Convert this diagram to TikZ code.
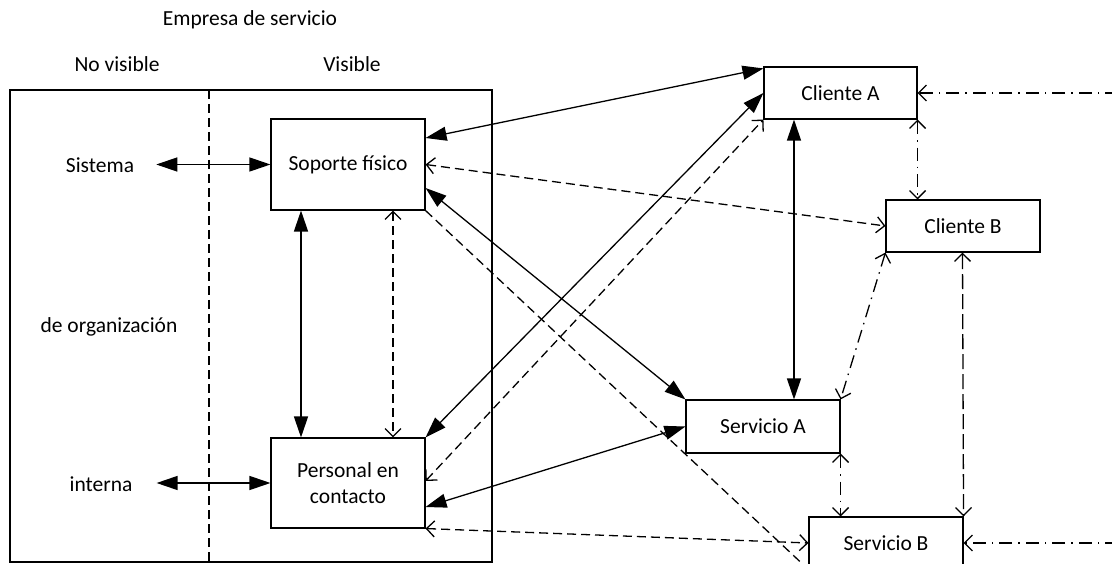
\documentclass[tikz,border=0pt]{standalone}
\usepackage{fontspec}
\setmainfont{Carlito}
\usetikzlibrary{arrows.meta,calc}
\begin{document}
\begin{tikzpicture}[x=1pt,y=-1pt,
  txt/.style={font=\fontsize{21.5}{26}\selectfont, inner sep=0pt},
  box/.style={draw, line width=1.1pt, minimum width=154pt, inner sep=0pt,
    align=center, font=\fontsize{21.5}{26}\selectfont},
  fullhead/.tip={Triangle[length=21pt,width=14pt]},
  openhead/.tip={Straight Barb[length=8pt,width=16pt]},
  solidlink/.style={draw, line width=1.3pt, fullhead-fullhead},
  dashlink/.style={draw, line width=1.3pt, dash pattern=on 9pt off 5pt, openhead-openhead},
  dashplain/.style={draw, line width=1.3pt, dash pattern=on 9pt off 5pt},
  longdashlink/.style={draw, line width=1.3pt, dash pattern=on 15pt off 5pt, openhead-openhead},
  dotlink/.style={draw, line width=1.3pt, dash pattern=on 13pt off 6pt on 1.5pt off 6pt, openhead-openhead},
  dotin/.style={draw, line width=1.3pt, dash pattern=on 13pt off 6pt on 1.5pt off 6pt, -openhead},
  divider/.style={draw, line width=1.3pt, dash pattern=on 9pt off 5pt}]

\useasboundingbox (0,0) rectangle (1112,564);
\clip (0,0) rectangle (1112,564);

% headings
\node[txt, anchor=base] (empresa) at (250,26) {Empresa de servicio};
\node[txt, anchor=base] (novisible) at (117,72) {No visible};
\node[txt, anchor=base] (visible) at (352,72) {Visible};

% service company frame and visibility line
\node[draw, line width=1.1pt, minimum width=482pt, minimum height=472pt, inner sep=0pt] (frame) at (251,326) {};
\coordinate (divtop) at (209,90);
\coordinate (divbot) at (209,568);
\draw[divider] (divtop) -- (divbot);

% internal organisation labels
\node[txt, inner xsep=22pt] (sistema) at (100,165) {Sistema};
\node[txt] (organizacion) at (109,327) {de organización};
\node[txt, inner xsep=24pt] (interna) at (101,484) {interna};

% boxes
\node[box, minimum height=91pt] (soporte) at (348,164.5) {Soporte físico};
\node[box, minimum height=90pt] (personal) at (348,483) {Personal en\\contacto};
\node[box, minimum width=153pt, minimum height=52pt] (clienteA) at (840.5,93) {Cliente A};
\node[box, minimum height=52pt] (clienteB) at (963,226) {Cliente B};
\node[box, minimum height=53pt] (servicioA) at (763,426.5) {Servicio A};
\node[box, minimum height=52pt] (servicioB) at (886,543) {Servicio B};

% off-page ends on the right
\coordinate (rimA) at (1118,93);
\coordinate (rimB) at (1118,543);

% links inside the company
\draw[solidlink] (sistema.east |- soporte.west) -- (soporte.west);
\draw[solidlink] (interna.east |- personal.west) -- (personal.west);
\draw[solidlink] ([xshift=-47pt]soporte.south) -- ([xshift=-47pt]personal.north);
\draw[dashlink] ([xshift=45pt]soporte.south) -- ([xshift=45pt]personal.north);

% links from the physical support
\draw[solidlink] ([yshift=26.5pt]soporte.east) -- ([yshift=-2pt]clienteA.north west);
\draw[dashlink] (soporte.east) -- (clienteB.west);
\draw[solidlink] ([yshift=-23.5pt]soporte.east) -- (servicioA.north west);
\draw[dashplain] (soporte.south east) -- (servicioB.south west);

% links from the contact staff
\draw[solidlink] (personal.north east) -- (clienteA.west);
\draw[dashlink] ([yshift=2pt]personal.east) -- (clienteA.south west);
\draw[solidlink] ([yshift=-24pt]personal.east) -- (servicioA.west);
\draw[dashlink] (personal.south east) -- (servicioB.west);

% links between clients and services
\coordinate (caFoot) at ([xshift=-46.5pt]clienteA.south);
\draw[solidlink] (caFoot) -- (caFoot |- servicioA.north);
\draw[dotlink] (clienteA.south east) -- (clienteA.south east |- clienteB.north);
\draw[dotlink] (clienteB.south west) -- (servicioA.north east);
\draw[longdashlink] ([xshift=-0.5pt]clienteB.south) -- (servicioB.north east);
\draw[dotlink] (servicioA.south east) -- (servicioA.south east |- servicioB.north);
\draw[dotin] (rimA) -- (clienteA.east);
\draw[dotin] (rimB) -- (servicioB.east);
\end{tikzpicture}
\end{document}
